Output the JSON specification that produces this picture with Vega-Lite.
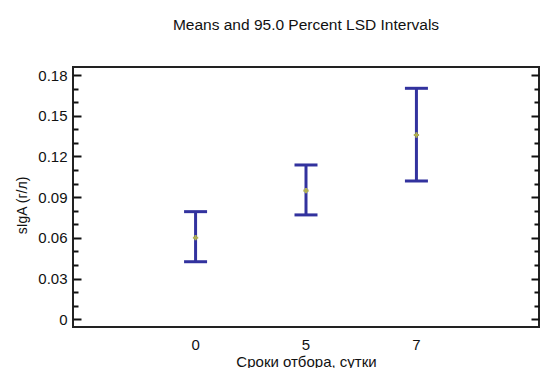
{
  "$schema": "https://vega.github.io/schema/vega-lite/v6.json",
  "width": 466,
  "height": 260,
  "autosize": {"type": "none"},
  "padding": {"left": 73, "top": 67, "right": 1, "bottom": 41},
  "background": "white",
  "title": {
    "text": "Means and 95.0 Percent LSD Intervals",
    "font": "Liberation Sans",
    "fontSize": 15.5,
    "fontWeight": "normal",
    "color": "#111",
    "anchor": "middle",
    "offset": 34
  },
  "config": {
    "view": {"stroke": "#222", "strokeWidth": 2},
    "axis": {"labelFont": "Liberation Sans", "titleFont": "Liberation Sans", "labelColor": "#111", "titleColor": "#111", "titleFontWeight": "normal", "grid": false, "domain": false}
  },
  "data": {
    "values": [
      {"t": "0", "mean": 0.0601, "lo": 0.0424, "hi": 0.0793},
      {"t": "5", "mean": 0.0948, "lo": 0.0769, "hi": 0.1137},
      {"t": "7", "mean": 0.1358, "lo": 0.1019, "hi": 0.1702}
    ]
  },
  "encoding": {
    "x": {
      "field": "t",
      "type": "ordinal",
      "scale": {"type": "band", "paddingInner": 0, "paddingOuter": 0.61},
      "axis": {"title": "Сроки отбора, сутки", "labelAngle": 0, "labelFontSize": 15, "titleFontSize": 15, "ticks": false, "tickSize": 0, "labelPadding": 10, "titlePadding": 2}
    }
  },
  "layer": [
    {
      "mark": {"type": "rule", "color": "#32329e", "strokeWidth": 3, "opacity": 1},
      "encoding": {
        "y": {
          "field": "lo",
          "type": "quantitative",
          "scale": {"domain": [-0.0057, 0.1859], "nice": false, "zero": false},
          "axis": {
            "orient": "left",
            "title": "sIgA (г/л)",
            "titleFontSize": 14,
            "labelFontSize": 15,
            "values": [0, 0.01, 0.02, 0.03, 0.04, 0.05, 0.06, 0.07, 0.08, 0.09, 0.1, 0.11, 0.12, 0.13, 0.14, 0.15, 0.16, 0.17, 0.18],
            "labelExpr": "round(datum.value*100) % 3 == 0 ? (datum.value == 0 ? '0' : format(datum.value, '.2f')) : ''",
            "tickColor": "#111",
            "tickWidth": 2,
            "tickSize": {"condition": {"test": "round(datum.value*100) % 3 == 0", "value": -8}, "value": -5},
            "labelPadding": 14,
            "titlePadding": 8,
            "titleY": 138
          }
        },
        "y2": {"field": "hi"}
      }
    },
    {
      "mark": {"type": "tick", "color": "#32329e", "thickness": 3, "size": 23, "opacity": 1},
      "encoding": {"y": {"field": "lo", "type": "quantitative", "axis": {
            "orient": "right",
            "title": null,
            "labels": false,
            "values": [0, 0.01, 0.02, 0.03, 0.04, 0.05, 0.06, 0.07, 0.08, 0.09, 0.1, 0.11, 0.12, 0.13, 0.14, 0.15, 0.16, 0.17, 0.18],
            "tickColor": "#111",
            "tickWidth": 2,
            "tickSize": {"condition": {"test": "round(datum.value*100) % 3 == 0", "value": -8}, "value": -5}
          }}}
    },
    {
      "mark": {"type": "tick", "color": "#32329e", "thickness": 3, "size": 23, "opacity": 1},
      "encoding": {"y": {"field": "hi", "type": "quantitative", "axis": null}}
    },
    {
      "mark": {"type": "point", "shape": "cross", "color": "#b0b050", "filled": true, "size": 28, "opacity": 1},
      "encoding": {"y": {"field": "mean", "type": "quantitative", "axis": null}}
    }
  ],
  "resolve": {"axis": {"y": "independent"}}
}
